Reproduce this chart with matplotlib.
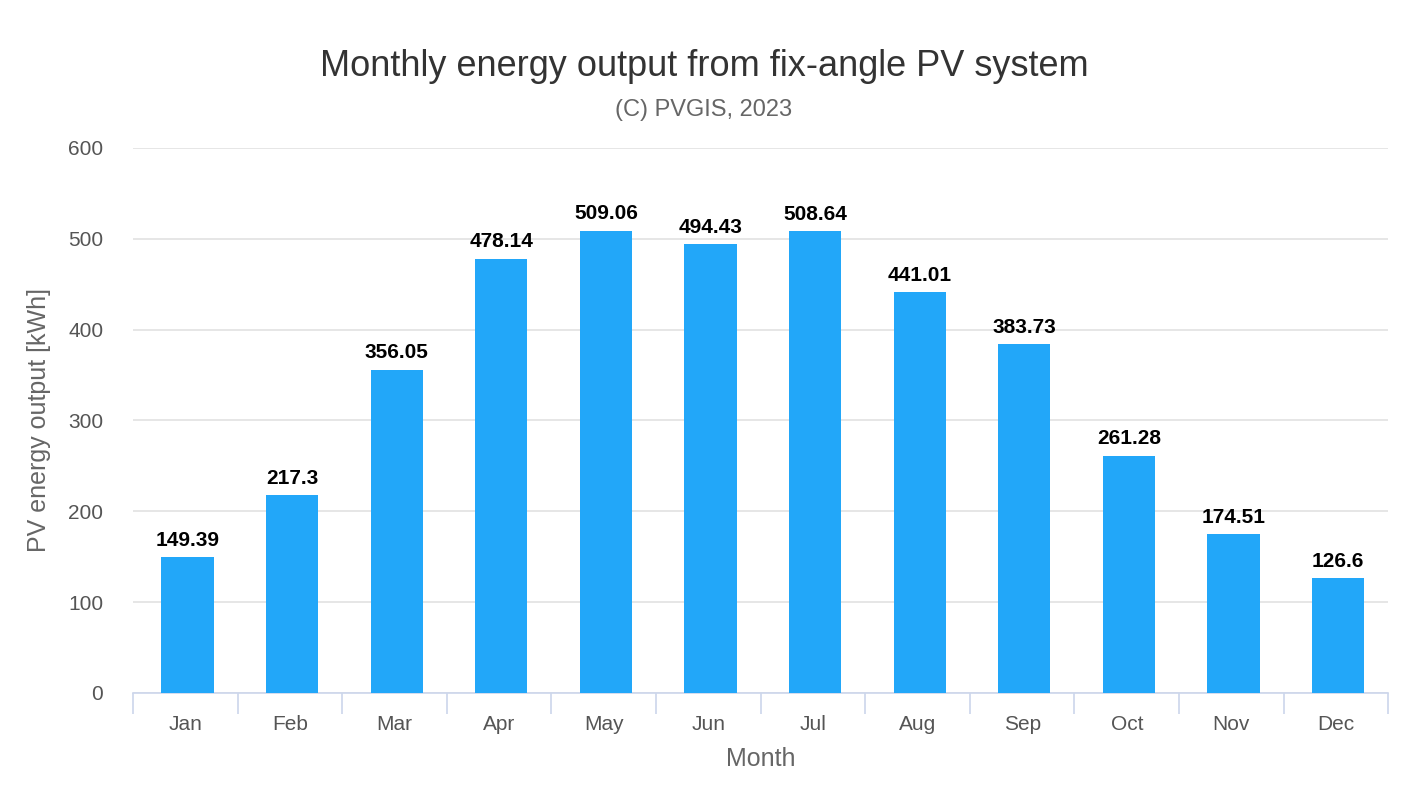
import matplotlib.pyplot as plt
import numpy as np

plt.rcParams['font.family'] = ['Liberation Sans', 'DejaVu Sans']

months = ['Jan', 'Feb', 'Mar', 'Apr', 'May', 'Jun', 'Jul', 'Aug', 'Sep', 'Oct', 'Nov', 'Dec']
energy = [149.39, 217.3, 356.05, 478.14, 509.06, 494.43, 508.64, 441.01, 383.73, 261.28, 174.51, 126.6]
yticks = [0, 100, 200, 300, 400, 500, 600]

fig = plt.figure(figsize=(14.08, 8), dpi=100)
ax = fig.add_axes([0.0945, 0.134, 0.8915, 0.681])

x = np.arange(len(months))
bars = ax.bar(x + 0.02, energy, width=0.5, color='#22a7f9', zorder=3)

for xi, v in zip(x, energy):
    ax.text(xi + 0.02, v + 8, f'{v:g}', ha='center', va='bottom', fontsize=15,
            fontweight='bold', color='black', zorder=4)

ax.set_xlim(-0.5, len(months) - 0.5)
ax.set_ylim(0, 600)
ax.set_yticks(yticks)
ax.set_xticks(x)
ax.set_xticklabels(months)
ax.set_xticks(np.arange(-0.5, len(months)), minor=True)
ax.tick_params(axis='x', which='major', length=0, pad=16, labelsize=15, labelcolor='#555555')
ax.tick_params(axis='x', which='minor', length=15, width=1.2, color='#ccd6eb')
ax.tick_params(axis='y', length=0, pad=21.5, labelsize=15, labelcolor='#555555')

ax.grid(axis='y', color='#e2e2e2', linewidth=1.2, zorder=0)
for s in ['top', 'right', 'left']:
    ax.spines[s].set_visible(False)
ax.spines['bottom'].set_color('#ccd6eb')
ax.spines['bottom'].set_linewidth(1.2)

ax.set_xlabel('Month', fontsize=18, color='#666666', labelpad=9)
ax.set_ylabel('PV energy output [kWh]', fontsize=18, color='#666666', labelpad=12)

fig.text(0.5, 0.9175, 'Monthly energy output from fix-angle PV system', ha='center',
         va='center', fontsize=26, color='#333333')
fig.text(0.5, 0.8625, '(C) PVGIS, 2023', ha='center', va='center', fontsize=17, color='#666666')

fig.savefig('out.png', dpi=100)
